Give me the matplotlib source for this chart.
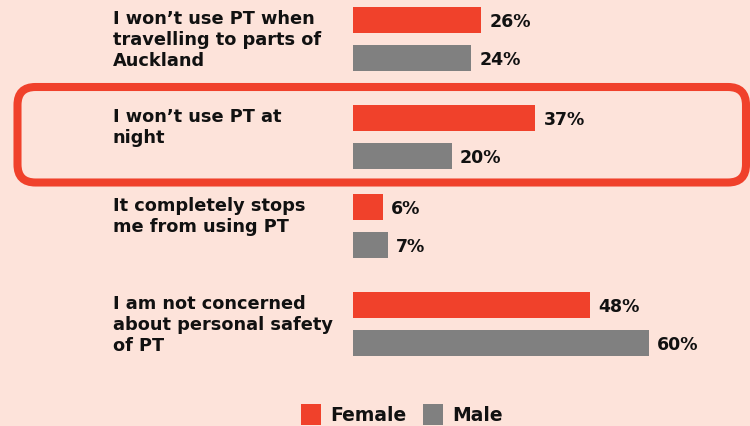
import numpy as np
import matplotlib.pyplot as plt
from matplotlib.patches import FancyBboxPatch, Rectangle

# data
categories = [
    "I won\u2019t use PT when\ntravelling to parts of\nAuckland",
    "I won\u2019t use PT at\nnight",
    "It completely stops\nme from using PT",
    "I am not concerned\nabout personal safety\nof PT",
]
female = [26, 37, 6, 48]
male = [24, 20, 7, 60]
series_names = ["Female", "Male"]

BG = "#fde3da"
RED = "#f0412b"
GREY = "#808080"
FONT = "DejaVu Sans"
INK = "#111111"

W, H = 750, 427
fig = plt.figure(figsize=(W / 100, H / 100), dpi=100, facecolor=BG)

# bar axes: x in percent, y in pixels from top
ax = fig.add_axes([0, 0, 1, 1])
ax.set_facecolor(BG)
x0, scale = 353, 4.93
ax.set_xlim(-x0 / scale, (W - x0) / scale)
ax.set_ylim(H, 0)
ax.axis("off")

group_top = [8, 106, 195, 293]
bh, gap = 26, 38
yf = np.array(group_top) + bh / 2
ym = yf + gap

ax.barh(yf, female, height=bh, color=RED, edgecolor="none")
ax.barh(ym, male, height=bh, color=GREY, edgecolor="none")

for y, v in zip(yf, female):
    ax.text(v + 1.7, y + 1, f"{v}%", va="center", ha="left",
            fontsize=12.5, fontweight="bold", family=FONT, color=INK)
for y, v in zip(ym, male):
    ax.text(v + 1.7, y + 1, f"{v}%", va="center", ha="left",
            fontsize=12.5, fontweight="bold", family=FONT, color=INK)

# overlay in pixel coords for labels, highlight box, legend
ov = fig.add_axes([0, 0, 1, 1])
ov.set_xlim(0, W)
ov.set_ylim(H, 0)
ov.axis("off")
ov.patch.set_alpha(0)

for top, lab in zip(group_top, categories):
    ov.text(113, top + 2, lab, ha="left", va="top", fontsize=12.8,
            fontweight="bold", family=FONT, color=INK,
            linespacing=1.2)

box = FancyBboxPatch((17.5, 88), 728.5, 95.5,
                     boxstyle="round,pad=0,rounding_size=18",
                     fill=False, edgecolor=RED, linewidth=5.8)
ov.add_patch(box)

# legend
ov.add_patch(Rectangle((301, 405), 20, 21, color=RED, lw=0))
ov.text(330, 416, series_names[0], va="center", ha="left", fontsize=13.5,
        fontweight="bold", family=FONT, color=INK)
ov.add_patch(Rectangle((423, 405), 20, 21, color=GREY, lw=0))
ov.text(452, 416, series_names[1], va="center", ha="left", fontsize=13.5,
        fontweight="bold", family=FONT, color=INK)

plt.savefig("out.png", dpi=100, facecolor=BG)
plt.close()
